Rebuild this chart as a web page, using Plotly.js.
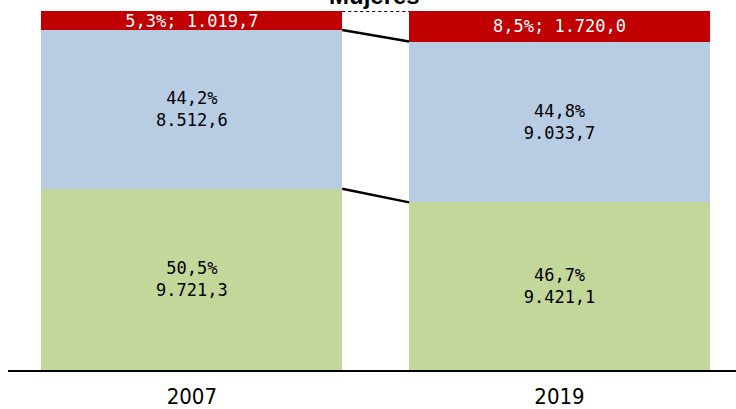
<!DOCTYPE html>
<html>
<head>
<meta charset="utf-8">
<script src="https://cdn.plot.ly/plotly-3.0.1.min.js"></script>
<style>html,body{margin:0;padding:0;background:#fff;}#chart{width:736px;height:409px;}</style>
</head>
<body>
<div id="chart"></div>
<script>
const years = ['2007', '2019'];
const pctLow = [50.5, 46.7];
const valLow = [9721.3, 9421.1];
const pctMid = [44.2, 44.8];
const valMid = [8512.6, 9033.7];
const pctHigh = [5.3, 8.5];
const valHigh = [1019.7, 1720.0];

function fmt(v) {
  const parts = v.toFixed(1).split('.');
  const intPart = parts[0].replace(/\B(?=(\d{3})+(?!\d))/g, '.');
  return intPart + ',' + parts[1];
}
function pct(p) { return p.toFixed(1).replace('.', ',') + '%'; }

const xPos = years.map((_, i) => i);
const barW = 0.818;
const darkFont = {family: 'DejaVu Sans Mono, monospace', size: 17, color: '#000000'};
const whiteFont = {family: 'DejaVu Sans Mono, monospace', size: 17, color: '#ffffff'};

function barTrace(p, v, color, twoLine, font) {
  return {
    type: 'bar', x: xPos, y: p, width: xPos.map(() => barW),
    marker: {color: color, line: {width: 0}},
    text: p.map((pp, i) => twoLine ? pct(pp) + '<br>' + fmt(v[i]) : pct(pp) + '; ' + fmt(v[i])),
    textposition: 'inside', insidetextanchor: 'middle', textangle: 0,
    constraintext: 'none', textfont: font, hoverinfo: 'none', cliponaxis: false
  };
}

const cum1 = pctLow;
const cum2 = pctLow.map((v, i) => v + pctMid[i]);
const lx = [xPos[0] + barW / 2, xPos[1] - barW / 2];

const data = [
  barTrace(pctLow, valLow, '#C4D79B', true, darkFont),
  barTrace(pctMid, valMid, '#B8CCE4', true, darkFont),
  barTrace(pctHigh, valHigh, '#C00000', false, whiteFont),
  {type: 'scatter', mode: 'lines', x: lx, y: cum1, line: {color: '#000', width: 2.5}, hoverinfo: 'none', cliponaxis: false},
  {type: 'scatter', mode: 'lines', x: lx, y: cum2, line: {color: '#000', width: 2.5}, hoverinfo: 'none', cliponaxis: false},
  {type: 'scatter', mode: 'lines', x: lx, y: [100, 100], line: {color: '#000', width: 2, dash: 'dot'}, hoverinfo: 'none', cliponaxis: false}
];

const layout = {
  width: 736, height: 409,
  margin: {l: 8, r: 0, t: 11, b: 39},
  paper_bgcolor: '#ffffff', plot_bgcolor: '#ffffff',
  barmode: 'stack', showlegend: false, hovermode: false,
  xaxis: {
    range: [-0.5, 1.48], tickvals: xPos, ticktext: years,
    showline: true, linecolor: '#000', linewidth: 2, showgrid: false, zeroline: false,
    ticks: '', ticklabelstandoff: 6,
    tickfont: {family: 'Liberation Sans Narrow, DejaVu Sans Condensed, sans-serif', size: 22, color: '#000'}
  },
  yaxis: {range: [0, 100], visible: false, showgrid: false, zeroline: false},
  annotations: [{
    text: '<b>Mujeres</b>', xref: 'paper', yref: 'paper', x: 0.504, y: 1.0,
    xanchor: 'center', yanchor: 'bottom', showarrow: false,
    font: {family: 'Liberation Sans, sans-serif', size: 24, color: '#000'}
  }]
};

Plotly.newPlot('chart', data, layout, {displayModeBar: false, staticPlot: true});
</script>
</body>
</html>
